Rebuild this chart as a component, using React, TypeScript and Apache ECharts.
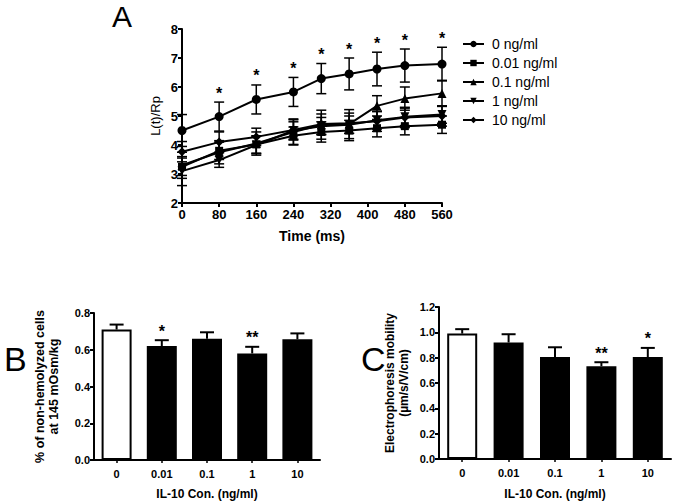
import React, { useEffect, useRef } from "react";
import * as echarts from "echarts";

const FONT = "Liberation Sans, Arial, sans-serif";

// Panel A
const times = [0, 80, 160, 240, 300, 360, 420, 480, 560];
const seriesNames = ["0 ng/ml", "0.01 ng/ml", "0.1 ng/ml", "1 ng/ml", "10 ng/ml"];
const s0 = [4.5, 4.98, 5.57, 5.83, 6.29, 6.45, 6.62, 6.74, 6.79];
const s0err = [0.55, 0.5, 0.5, 0.5, 0.52, 0.55, 0.58, 0.57, 0.58];
const s001 = [3.25, 3.8, 4.02, 4.32, 4.45, 4.5, 4.58, 4.65, 4.7];
const s001err = [0.3, 0.3, 0.3, 0.3, 0.35, 0.35, 0.3, 0.3, 0.3];
const s01 = [3.3, 3.75, 4.05, 4.45, 4.7, 4.72, 5.35, 5.6, 5.78];
const s01err = [0.45, 0.4, 0.4, 0.45, 0.5, 0.5, 0.35, 0.4, 0.45];
const s1 = [3.1, 3.48, 4.0, 4.5, 4.65, 4.7, 4.85, 4.97, 5.05];
const s1err = [0.5, 0.25, 0.3, 0.3, 0.3, 0.3, 0.3, 0.3, 0.3];
const s10 = [3.77, 4.1, 4.28, 4.52, 4.72, 4.75, 4.82, 4.95, 5.0];
const s10err = [0.35, 0.35, 0.3, 0.35, 0.35, 0.35, 0.35, 0.35, 0.35];
const starTimesA = [80, 160, 240, 300, 360, 420, 480, 560];

// Panels B and C
const conc = ["0", "0.01", "0.1", "1", "10"];
const bVals = [0.71, 0.62, 0.66, 0.58, 0.657];
const bErr = [0.027, 0.032, 0.035, 0.036, 0.032];
const bStars = ["", "*", "", "**", ""];
const cVals = [0.99, 0.92, 0.805, 0.733, 0.805];
const cErr = [0.035, 0.065, 0.077, 0.031, 0.072];
const cStars = ["", "", "", "**", "*"];

const symbols = ["circle", "rect", "triangle", "triangle", "diamond"];
const rotations = [0, 0, 0, 180, 0];

export default function App() {
  const ref = useRef<HTMLDivElement>(null);
  useEffect(() => {
    document.body.style.margin = "0";
    if (!ref.current) return;
    const chart = echarts.init(ref.current, null, { renderer: "svg" });
    const lineVals = [s0, s001, s01, s1, s10];
    const lineErrs = [s0err, s001err, s01err, s1err, s10err];

    const axisLine = { show: true, lineStyle: { color: "#000", width: 2 } };
    const axisTick = { show: true, length: 4, lineStyle: { color: "#000", width: 2 } };
    const labelA = { color: "#000", fontWeight: "bold" as const, fontSize: 13, fontFamily: FONT };
    const labelB = { color: "#000", fontWeight: "bold" as const, fontSize: 11, fontFamily: FONT };
    const nameB = { color: "#000", fontWeight: "bold" as const, fontSize: 12, fontFamily: FONT };

    const errLineA = (capHalf: number) => (params: any, api: any) => {
      const x = api.value(0);
      const v = api.value(1);
      const e = api.value(2);
      const lo = api.coord([x, v - e]);
      const hi = api.coord([x, v + e]);
      const st = { stroke: "#000", lineWidth: 1.5 };
      return {
        type: "group",
        children: [
          { type: "line", shape: { x1: lo[0], y1: lo[1], x2: hi[0], y2: hi[1] }, style: st },
          { type: "line", shape: { x1: lo[0] - capHalf, y1: lo[1], x2: lo[0] + capHalf, y2: lo[1] }, style: st },
          { type: "line", shape: { x1: hi[0] - capHalf, y1: hi[1], x2: hi[0] + capHalf, y2: hi[1] }, style: st },
        ],
      };
    };

    const errUp = (params: any, api: any) => {
      const x = api.value(0);
      const v = api.value(1);
      const e = api.value(2);
      const lo = api.coord([x, v]);
      const hi = api.coord([x, v + e]);
      const st = { stroke: "#000", lineWidth: 2 };
      return {
        type: "group",
        children: [
          { type: "line", shape: { x1: lo[0], y1: lo[1], x2: hi[0], y2: hi[1] }, style: st },
          { type: "line", shape: { x1: hi[0] - 7, y1: hi[1], x2: hi[0] + 7, y2: hi[1] }, style: st },
        ],
      };
    };

    const starRender = (params: any, api: any) => {
      const x = api.value(0);
      const top = api.value(1);
      const p = api.coord([x, top]);
      return {
        type: "text",
        x: p[0],
        y: p[1] - 1,
        style: {
          text: api.value(2) === 2 ? "**" : "*",
          fontSize: 16,
          fontWeight: "bold",
          fontFamily: FONT,
          fill: "#000",
          align: "center",
          verticalAlign: "bottom",
        },
      };
    };

    const series: any[] = [];
    lineVals.forEach((vals, i) => {
      series.push({
        name: seriesNames[i],
        type: "line",
        xAxisIndex: 0,
        yAxisIndex: 0,
        data: times.map((t, j) => [t, vals[j]]),
        symbol: symbols[i],
        symbolRotate: rotations[i],
        symbolSize: i === 1 ? 8 : 9,
        itemStyle: { color: "#000" },
        lineStyle: { color: "#000", width: 2 },
        z: 5,
      });
      series.push({
        type: "custom",
        xAxisIndex: 0,
        yAxisIndex: 0,
        renderItem: errLineA(5),
        data: times.map((t, j) => [t, vals[j], lineErrs[i][j]]),
        z: 4,
      });
    });
    series.push({
      type: "custom",
      xAxisIndex: 0,
      yAxisIndex: 0,
      renderItem: starRender,
      data: starTimesA.map((t) => {
        const j = times.indexOf(t);
        return [t, s0[j] + s0err[j], 1];
      }),
      z: 6,
    });

    const barPanel = (idx: number, vals: number[], errs: number[], stars: string[]) => {
      series.push({
        type: "bar",
        xAxisIndex: idx,
        yAxisIndex: idx,
        barWidth: 30,
        data: vals.map((v, j) => ({
          value: v,
          itemStyle: j === 0
            ? { color: "#fff", borderColor: "#000", borderWidth: 2 }
            : { color: "#000", borderColor: "#000", borderWidth: 2 },
        })),
        z: 3,
      });
      series.push({
        type: "custom",
        xAxisIndex: idx,
        yAxisIndex: idx,
        renderItem: errUp,
        data: vals.map((v, j) => [j, v, errs[j]]),
        z: 4,
      });
      series.push({
        type: "custom",
        xAxisIndex: idx,
        yAxisIndex: idx,
        renderItem: starRender,
        data: vals
          .map((v, j) => [j, v + errs[j], stars[j].length])
          .filter((d) => d[2] > 0),
        z: 6,
      });
    };
    barPanel(1, bVals, bErr, bStars);
    barPanel(2, cVals, cErr, cStars);

    const catAxis = (gi: number, gap: number) => ({
      gridIndex: gi,
      type: "category",
      data: conc,
      axisLine,
      axisTick: { show: true, alignWithLabel: true, length: 3, lineStyle: { color: "#000", width: 1.5 } },
      axisLabel: { ...labelB, margin: 8 },
      name: "IL-10 Con. (ng/ml)",
      nameLocation: "middle",
      nameGap: gap,
      nameTextStyle: nameB,
    });

    chart.setOption({
      animation: false,
      backgroundColor: "#fff",
      textStyle: { fontFamily: FONT },
      grid: [
        { left: 182, width: 260, top: 29, height: 174 },
        { left: 94, width: 226, top: 313, height: 151 },
        { left: 439, width: 232, top: 307, height: 156 },
      ],
      legend: {
        orient: "vertical",
        left: 457,
        top: 32,
        itemGap: 5,
        itemWidth: 21,
        itemHeight: 8,
        data: seriesNames,
        textStyle: { color: "#000", fontSize: 14, fontFamily: FONT, padding: [0, 0, 0, 3] },
      },
      xAxis: [
        {
          gridIndex: 0,
          type: "value",
          min: 0,
          max: 560,
          interval: 80,
          splitLine: { show: false },
          axisLine,
          axisTick,
          axisLabel: { ...labelA, margin: 5 },
          name: "Time (ms)",
          nameLocation: "middle",
          nameGap: 26,
          nameTextStyle: { ...labelA, fontSize: 14 },
        },
        catAxis(1, 28),
        catAxis(2, 29),
      ],
      yAxis: [
        {
          gridIndex: 0,
          type: "value",
          min: 2,
          max: 8,
          interval: 1,
          splitLine: { show: false },
          axisLine,
          axisTick,
          axisLabel: { ...labelA, margin: 4 },
          name: "L(t)/Rp",
          nameLocation: "middle",
          nameGap: 20,
          nameTextStyle: { color: "#000", fontSize: 13, fontFamily: FONT },
        },
        {
          gridIndex: 1,
          type: "value",
          min: 0,
          max: 0.8,
          interval: 0.2,
          splitLine: { show: false },
          axisLine,
          axisTick,
          axisLabel: { ...labelB, margin: 4, formatter: (v: number) => v.toFixed(1) },
          name: "% of non-hemolyzed cells\nat 145 mOsm/kg",
          nameLocation: "middle",
          nameGap: 33,
          nameTextStyle: { ...nameB, fontSize: 12.5, lineHeight: 14 },
        },
        {
          gridIndex: 2,
          type: "value",
          min: 0,
          max: 1.2,
          interval: 0.2,
          splitLine: { show: false },
          axisLine,
          axisTick,
          axisLabel: { ...labelB, margin: 4, formatter: (v: number) => v.toFixed(1) },
          name: "Electrophoresis mobility\n(µm/s/V/cm)",
          nameLocation: "middle",
          nameGap: 28,
          nameTextStyle: { ...nameB, lineHeight: 14 },
        },
      ],
      graphic: [
        { type: "text", left: 112, top: 1, style: { text: "A", fontSize: 30, fontFamily: FONT, fill: "#000" } },
        { type: "text", left: 4, top: 342, style: { text: "B", fontSize: 34, fontFamily: FONT, fill: "#000" } },
        { type: "text", left: 361, top: 342, style: { text: "C", fontSize: 34, fontFamily: FONT, fill: "#000" } },
      ],
      series,
    });
    return () => chart.dispose();
  }, []);
  return <div ref={ref} style={{ width: 675, height: 501 }} />;
}
